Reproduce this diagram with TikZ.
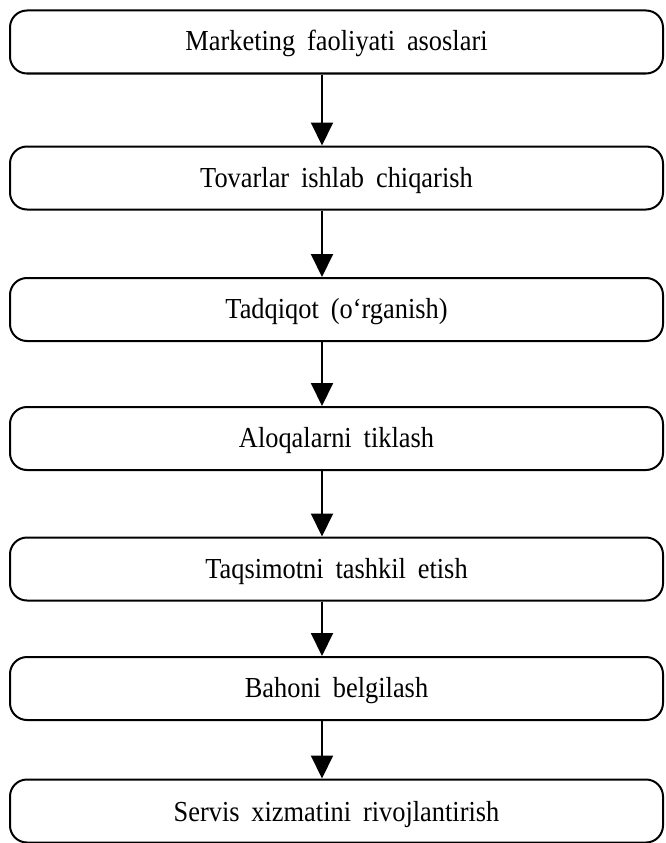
\documentclass[tikz,border=0pt]{standalone}
\usepackage{fontspec}
\setmainfont{Liberation Serif}[FakeStretch=0.91, WordSpace=1.8]
\usetikzlibrary{arrows.meta}
\begin{document}
\begin{tikzpicture}[x=1pt,y=-1pt,
  stage/.style={draw, line width=2pt, rounded corners=17pt, minimum width=653pt,
    minimum height=63pt, inner sep=0pt, text height=20pt, text depth=2pt,
    font=\fontsize{29}{34}\selectfont},
  flow/.style={line width=2pt, -{Triangle[width=22pt,length=23pt]}}]
\useasboundingbox (0,0) rectangle (665,843);
\node[stage] (b1) at (336.5,42)   {Marketing faoliyati asoslari};
\node[stage] (b2) at (336.5,178)  {Tovarlar ishlab chiqarish};
\node[stage] (b3) at (336.5,309.5){Tadqiqot (o‘rganish)};
\node[stage] (b4) at (336.5,438.5){Aloqalarni tiklash};
\node[stage] (b5) at (336.5,569)  {Taqsimotni tashkil etish};
\node[stage] (b6) at (336.5,688.5){Bahoni belgilash};
\node[stage, text depth=-8pt] (b7) at (336.5,811) {Servis xizmatini rivojlantirish};
\foreach \a/\b in {b1/b2,b2/b3,b3/b4,b4/b5,b5/b6,b6/b7}
  \draw[flow] ([xshift=-14.5pt]\a.south) -- ([xshift=-14.5pt]\b.north);
\end{tikzpicture}
\end{document}
